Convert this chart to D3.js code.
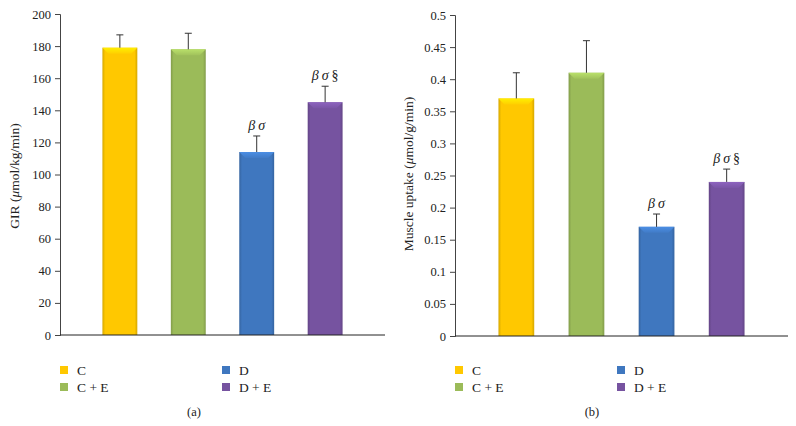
<!DOCTYPE html>
<html><head><meta charset="utf-8">
<script src="https://cdn.jsdelivr.net/npm/d3@7"></script>
<style>body{margin:0;background:#fff}svg{display:block;font-family:"Liberation Serif",serif}svg text{font-family:"Liberation Serif",serif !important;fill:#222}</style>
</head><body><svg id="c" width="796" height="426"></svg>
<script>
const categories = ["C", "C + E", "D", "D + E"];
const colors = ["#FFC800", "#9BBB59", "#3F77BF", "#7653A0"];
const girValues = [179, 178, 114, 145];
const girErrTop = [187, 188, 124, 155];
const girMarks = ["", "", "βσ", "βσ§"];
const girTicks = [0,20,40,60,80,100,120,140,160,180,200];
const muscleValues = [0.37, 0.41, 0.17, 0.24];
const muscleErrTop = [0.41, 0.46, 0.19, 0.26];
const muscleMarks = ["", "", "βσ", "βσ§"];
const muscleTicks = [0,0.05,0.1,0.15,0.2,0.25,0.3,0.35,0.4,0.45,0.5];

const svg = d3.select("#c");
const defs = svg.append("defs");
colors.forEach((c,i)=>{
  const g = defs.append("linearGradient").attr("id","g"+i).attr("x1",0).attr("x2",1).attr("y1",0).attr("y2",0);
  const d = d3.color(c).darker(0.5);
  g.append("stop").attr("offset","0%").attr("stop-color",d);
  g.append("stop").attr("offset","8%").attr("stop-color",c);
  g.append("stop").attr("offset","92%").attr("stop-color",c);
  g.append("stop").attr("offset","100%").attr("stop-color",d);
  const b = defs.append("linearGradient").attr("id","b"+i).attr("x1",0).attr("x2",0).attr("y1",0).attr("y2",1);
  b.append("stop").attr("offset","0%").attr("stop-color",d3.color(c).brighter(0.5));
  b.append("stop").attr("offset","100%").attr("stop-color",d3.color(c).brighter(0.1));
});

function panel(cfg){
  const g = svg.append("g");
  const x = d3.scaleBand().domain(categories).range([cfg.x0, cfg.x1]).paddingInner(0.49).paddingOuter(0.62);
  const y = d3.scaleLinear().domain([0, cfg.max]).range([cfg.yb, cfg.yt]);
  cfg.values.forEach((v,i)=>{
    const c = categories[i], bx = x(c), bw = x.bandwidth(), top = y(v), bot = y(0);
    g.append("rect").attr("x",bx).attr("y",top).attr("width",bw).attr("height",bot-top).attr("fill","url(#g"+i+")");
    const bev = 6;
    g.append("path").attr("d",`M${bx},${top}L${bx+bw},${top}L${bx+bw-bev},${top+bev}L${bx+bev},${top+bev}Z`)
      .attr("fill","url(#b"+i+")");
    const cx = bx + bw/2, et = y(cfg.err[i]);
    g.append("line").attr("x1",cx).attr("x2",cx).attr("y1",top).attr("y2",et).attr("stroke","#333").attr("stroke-width",1);
    g.append("line").attr("x1",cx-3.5).attr("x2",cx+3.5).attr("y1",et).attr("y2",et).attr("stroke","#333").attr("stroke-width",1);
    if (cfg.marks[i]) {
      const t = g.append("text").attr("x",cx).attr("y",et-6).attr("text-anchor","middle").attr("font-size",14);
      [...cfg.marks[i]].forEach((ch,k)=>{
        t.append("tspan").text(ch).attr("font-style", ch==="§" ? "normal":"italic").attr("dx", k?3:0);
      });
    }
  });
  const ax = d3.axisLeft(y).tickValues(cfg.ticks).tickSize(5).tickPadding(4).tickFormat(cfg.fmt);
  const ag = g.append("g").attr("transform",`translate(${cfg.x0},0)`).call(ax);
  ag.attr("font-family",null);
  ag.select(".domain").attr("stroke","#444");
  ag.selectAll(".tick line").attr("stroke","#444");
  ag.selectAll("text").attr("font-size",12.5).attr("fill","#222");
  g.append("line").attr("x1",cfg.x0).attr("x2",cfg.x1).attr("y1",y(0)).attr("y2",y(0)).attr("stroke","#222").attr("stroke-width",1);
  g.append("text").attr("transform",`translate(${cfg.tx},${cfg.ty}) rotate(-90)`).attr("text-anchor","middle").attr("font-size",13.5)
    .html(cfg.title);
  const lx = [cfg.x0, cfg.x0+162], ly = [370, 387];
  categories.forEach((c,i)=>{
    const col = i<2?0:1, row = i%2;
    g.append("rect").attr("x",lx[col]).attr("y",ly[row]-4).attr("width",8).attr("height",8).attr("fill",colors[i]);
    g.append("text").attr("x",lx[col]+17).attr("y",ly[row]+4.5).attr("font-size",13.5).text(c);
  });
  g.append("text").attr("x",cfg.capx).attr("y",416).attr("text-anchor","middle").attr("font-size",12.5).text(cfg.cap);
}
panel({x0:60,x1:385,yb:335,yt:14,max:200,values:girValues,err:girErrTop,marks:girMarks,ticks:girTicks,
  fmt:d3.format("d"),tx:19,ty:176,title:'GIR (<tspan font-style="italic">μ</tspan>mol/kg/min)',capx:194,cap:"(a)"});
panel({x0:455,x1:788,yb:336,yt:15,max:0.5,values:muscleValues,err:muscleErrTop,marks:muscleMarks,ticks:muscleTicks,
  fmt:d=>String(+d.toFixed(2)),tx:413,ty:174,title:'Muscle uptake (<tspan font-style="italic">μ</tspan>mol/g/min)',capx:592,cap:"(b)"});
</script></body></html>
